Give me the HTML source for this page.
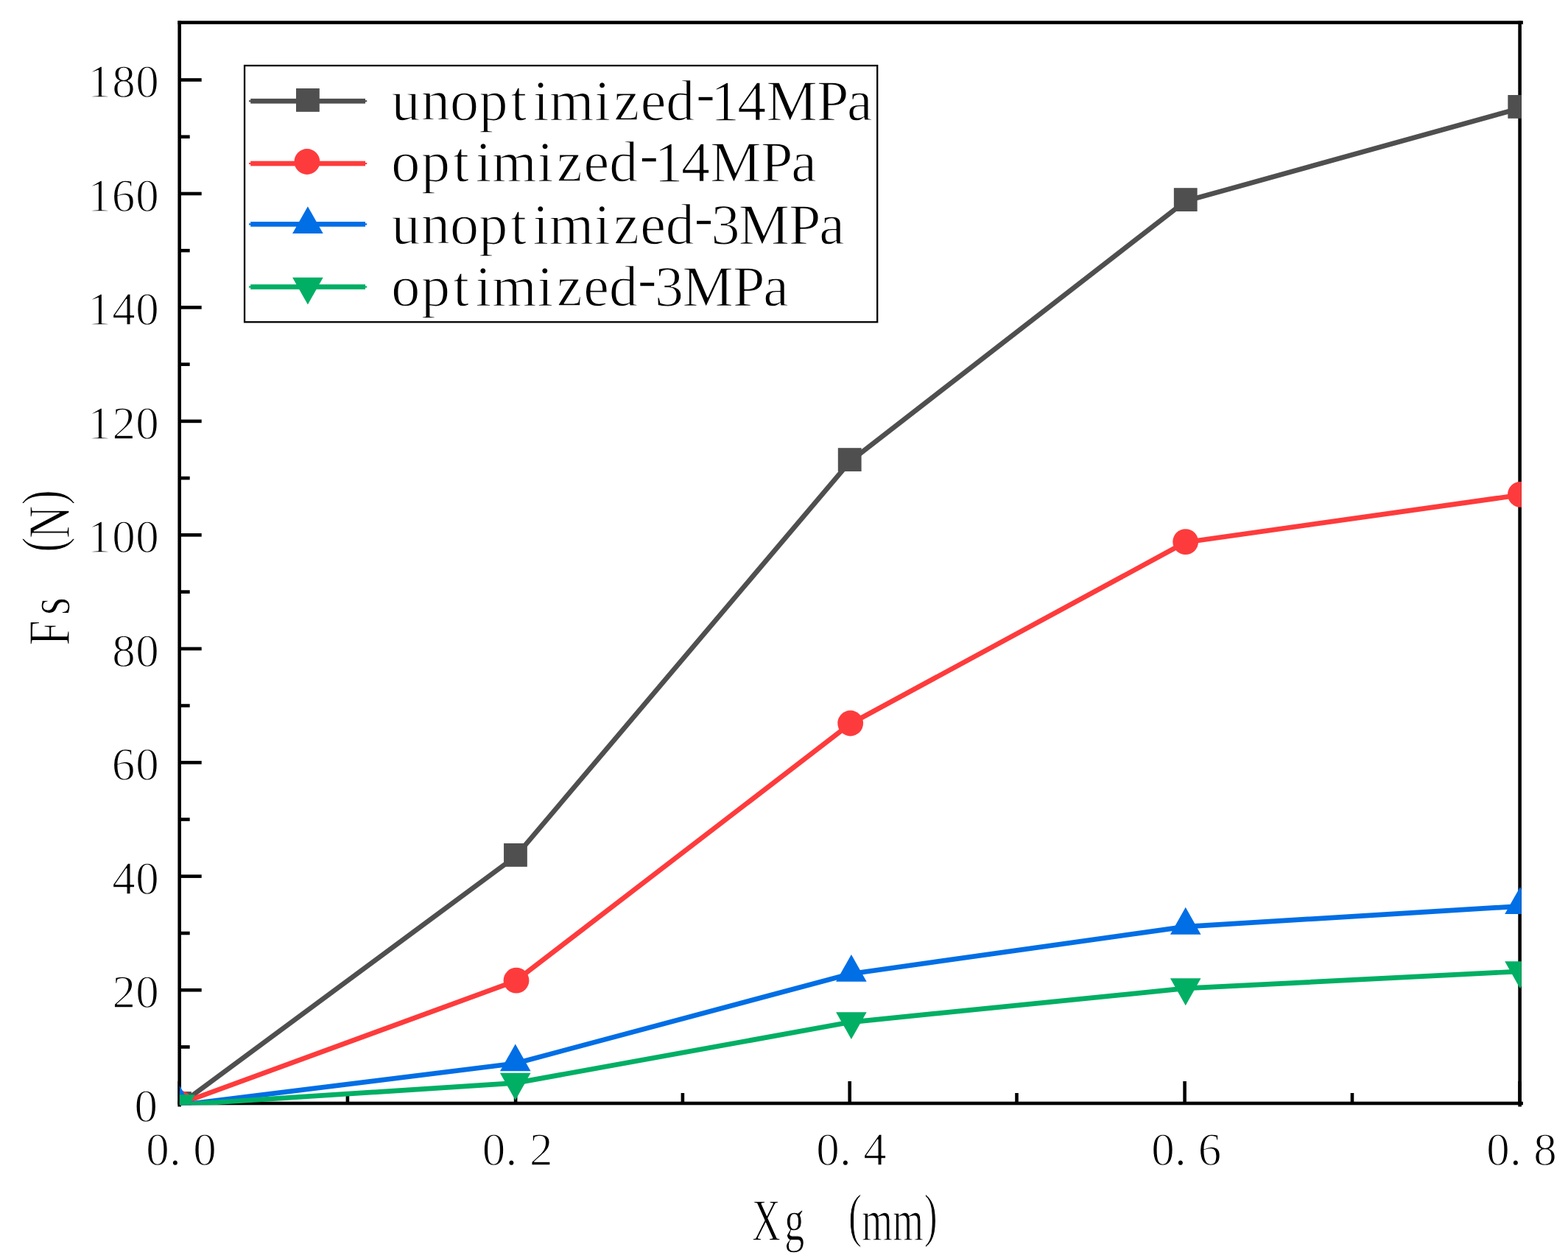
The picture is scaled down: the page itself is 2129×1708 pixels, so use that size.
<!DOCTYPE html>
<html lang="en"><head><meta charset="utf-8"><title>Fs vs Xg</title>
<style>html,body{margin:0;padding:0;background:#fff}body{width:2129px;height:1708px}svg{display:block}text{font-family:"Liberation Serif",serif;fill:#000;white-space:pre;stroke:#fff;stroke-width:1.3px;stroke-linejoin:round}</style>
</head><body>
<svg width="2129" height="1708" viewBox="0 0 2129 1708">
<rect width="2129" height="1708" fill="#fff"/>
<defs><clipPath id="plot"><rect x="243.9" y="28.3" width="1821.9" height="1471.9"/></clipPath></defs>
<g fill="#000">
<rect x="241.4" y="28.25" width="1826.5" height="4.6"/>
<rect x="241.4" y="1495.7" width="1826.5" height="4.6"/>
<rect x="241.4" y="28.25" width="4.6" height="1474.25"/>
<rect x="2061.3" y="28.25" width="4.6" height="1474.25"/>
<rect x="243.7" y="1419.17" width="14" height="4.6"/>
<rect x="243.7" y="1341.93" width="30" height="4.6"/>
<rect x="243.7" y="1264.7" width="14" height="4.6"/>
<rect x="243.7" y="1187.46" width="30" height="4.6"/>
<rect x="243.7" y="1110.23" width="14" height="4.6"/>
<rect x="243.7" y="1032.99" width="30" height="4.6"/>
<rect x="243.7" y="955.76" width="14" height="4.6"/>
<rect x="243.7" y="878.53" width="30" height="4.6"/>
<rect x="243.7" y="801.29" width="14" height="4.6"/>
<rect x="243.7" y="724.06" width="30" height="4.6"/>
<rect x="243.7" y="646.82" width="14" height="4.6"/>
<rect x="243.7" y="569.59" width="30" height="4.6"/>
<rect x="243.7" y="492.36" width="14" height="4.6"/>
<rect x="243.7" y="415.12" width="30" height="4.6"/>
<rect x="243.7" y="337.89" width="14" height="4.6"/>
<rect x="243.7" y="260.65" width="30" height="4.6"/>
<rect x="243.7" y="183.42" width="14" height="4.6"/>
<rect x="243.7" y="106.18" width="30" height="4.6"/>
<rect x="241.4" y="1468" width="4.6" height="30"/>
<rect x="469.6" y="1484" width="4.6" height="14"/>
<rect x="697.8" y="1468" width="4.6" height="30"/>
<rect x="924.6" y="1484" width="4.6" height="14"/>
<rect x="1151.4" y="1468" width="4.6" height="30"/>
<rect x="1378.2" y="1484" width="4.6" height="14"/>
<rect x="1606.3" y="1468" width="4.6" height="30"/>
<rect x="1833.7" y="1484" width="4.6" height="14"/>
<rect x="2061.3" y="1468" width="4.6" height="30"/>
</g>
<g clip-path="url(#plot)">
<polyline points="244,1500 700,1162.9 1154.6,626.1 1609.7,273.1 2064,146.9" fill="none" stroke="#4f4f4f" stroke-width="6.7" stroke-linejoin="round"/>
<rect x="228.1" y="1482.1" width="31.8" height="31.8" fill="#4f4f4f"/>
<rect x="684.05" y="1145" width="31.8" height="31.8" fill="#4f4f4f"/>
<rect x="1137.8" y="608.2" width="31.8" height="31.8" fill="#4f4f4f"/>
<rect x="1593.85" y="255.2" width="31.8" height="31.8" fill="#4f4f4f"/>
<rect x="2047.35" y="129" width="31.8" height="31.8" fill="#4f4f4f"/>
<polyline points="244,1498.7 700,1331.9 1154.6,982.7 1609.7,736.3 2064,672" fill="none" stroke="#fe3b3c" stroke-width="6.7" stroke-linejoin="round"/>
<circle cx="244" cy="1498" r="17.4" fill="#fe3b3c"/>
<circle cx="701" cy="1331.2" r="17.4" fill="#fe3b3c"/>
<circle cx="1154.65" cy="982" r="17.4" fill="#fe3b3c"/>
<circle cx="1609.7" cy="735.6" r="17.4" fill="#fe3b3c"/>
<circle cx="2064.4" cy="671.3" r="17.4" fill="#fe3b3c"/>
<polyline points="244,1500.3 700,1443.7 1154.6,1322.2 1609.7,1258.1 2064,1230.4" fill="none" stroke="#006ee5" stroke-width="6.7" stroke-linejoin="round"/>
<polygon points="223.2,1510.87 264.8,1510.87 244,1474.07" fill="#006ee5"/>
<polygon points="678.95,1454.27 720.55,1454.27 699.75,1417.47" fill="#006ee5"/>
<polygon points="1135.1,1332.77 1176.7,1332.77 1155.9,1295.97" fill="#006ee5"/>
<polygon points="1588.95,1268.67 1630.55,1268.67 1609.75,1231.87" fill="#006ee5"/>
<polygon points="2043.2,1240.97 2084.8,1240.97 2064,1204.17" fill="#006ee5"/>
<polyline points="244,1499.9 700,1470.4 1154.6,1387.8 1609.7,1341.9 2064,1318.9" fill="none" stroke="#00af64" stroke-width="6.7" stroke-linejoin="round"/>
<polygon points="223.2,1486.33 264.8,1486.33 244,1523.13" fill="#00af64"/>
<polygon points="678.95,1456.83 720.55,1456.83 699.75,1493.63" fill="#00af64"/>
<polygon points="1135.1,1374.23 1176.7,1374.23 1155.9,1411.03" fill="#00af64"/>
<polygon points="1588.95,1328.33 1630.55,1328.33 1609.75,1365.13" fill="#00af64"/>
<polygon points="2043.2,1305.33 2084.8,1305.33 2064,1342.13" fill="#00af64"/>
</g>
<g font-size="63">
<text x="182.45" y="1522.7">0</text>
<text x="152.6 184.25" y="1368.23">20</text>
<text x="152.13 184.25" y="1213.76">40</text>
<text x="151.83 184.25" y="1059.29">60</text>
<text x="152.25 184.25" y="904.83">80</text>
<text x="119.37 152.25 184.25" y="750.36">100</text>
<text x="119.37 152.6 184.25" y="595.89">120</text>
<text x="119.37 152.13 184.25" y="441.42">140</text>
<text x="119.37 151.83 184.25" y="286.95">160</text>
<text x="119.37 152.25 184.25" y="132.48">180</text>
<text x="198.25 230.12 262.25" y="1581.9">0.0</text>
<text x="654.65 686.52 719" y="1581.9">0.2</text>
<text x="1108.25 1140.12 1172.13" y="1581.9">0.4</text>
<text x="1563.15 1595.02 1626.73" y="1581.9">0.6</text>
<text x="2018.15 2050.03 2082.15" y="1581.9">0.8</text>
</g>
<text font-size="80.5" transform="translate(0 1683.8) scale(0.67 1)" x="1524.06 1589.81 1655.61 1719.26 1746.25 1808.91 1872.89" y="0 0 0 -7 0 0 -7">Xg (mm)</text>
<text font-size="81" transform="translate(94.2 878.7) rotate(-90) scale(0.76 1)" x="2.77 57.46 114.88 169.76 194.42 254.09" y="0 0 0 -9 0 -9">Fs (N)</text>
<rect x="332.05" y="89.05" width="859.15" height="348.2" fill="#fff" stroke="#000" stroke-width="2.3"/>
<rect x="340.2" y="133.9" width="155.8" height="6.7" fill="#4f4f4f"/>
<rect x="338" y="136.15" width="160.2" height="2.2" fill="#4f4f4f"/>
<rect x="402" y="120" width="31.8" height="31.8" fill="#4f4f4f"/>
<text font-size="78" transform="translate(0 163) scale(1 1)" x="531.4 571.92 611.05 650.43 693.39 723.63 745.78 807.2 833.48 869.63 904.25 945.07 964.97 1001.37 1040.5 1108.93 1150.05" y="0 0 0 0 0 0 0 0 0 0 0 -10 0 0 0 0 0">unoptimized-14MPa</text>
<rect x="340.2" y="218.65" width="155.8" height="6.7" fill="#fe3b3c"/>
<rect x="338" y="220.9" width="160.2" height="2.2" fill="#fe3b3c"/>
<circle cx="416.9" cy="219.5" r="17.4" fill="#fe3b3c"/>
<text font-size="78" transform="translate(0 246) scale(1 1)" x="531.25 572.08 615.24 645.67 668.02 729.63 756.11 792.45 827.28 868.28 888.39 924.98 964.31 1032.93 1074.25" y="0 0 0 0 0 0 0 0 0 -10 0 0 0 0 0">optimized-14MPa</text>
<rect x="340.2" y="301.05" width="155.8" height="6.7" fill="#006ee5"/>
<rect x="338" y="303.3" width="160.2" height="2.2" fill="#006ee5"/>
<polygon points="397.1,317.07 438.7,317.07 417.9,280.27" fill="#006ee5"/>
<text font-size="78" transform="translate(0 330.5) scale(1 1)" x="531.4 571.88 610.97 650.31 693.23 723.43 745.54 806.92 833.16 869.27 903.71 942.43 965.41 1002.68 1071.07 1112.15" y="0 0 0 0 0 0 0 0 0 0 0 -10 0 0 0 0">unoptimized-3MPa</text>
<rect x="340.2" y="386.15" width="155.8" height="6.7" fill="#00af64"/>
<rect x="338" y="388.4" width="160.2" height="2.2" fill="#00af64"/>
<polygon points="397.1,376.73 438.7,376.73 417.9,413.53" fill="#00af64"/>
<text font-size="78" transform="translate(0 415.2) scale(1 1)" x="531.25 572.05 615.18 645.58 667.9 729.48 755.92 792.24 826.88 865.81 889 926.47 995.06 1036.35" y="0 0 0 0 0 0 0 0 0 -10 0 0 0 0">optimized-3MPa</text>
</svg>
</body></html>
